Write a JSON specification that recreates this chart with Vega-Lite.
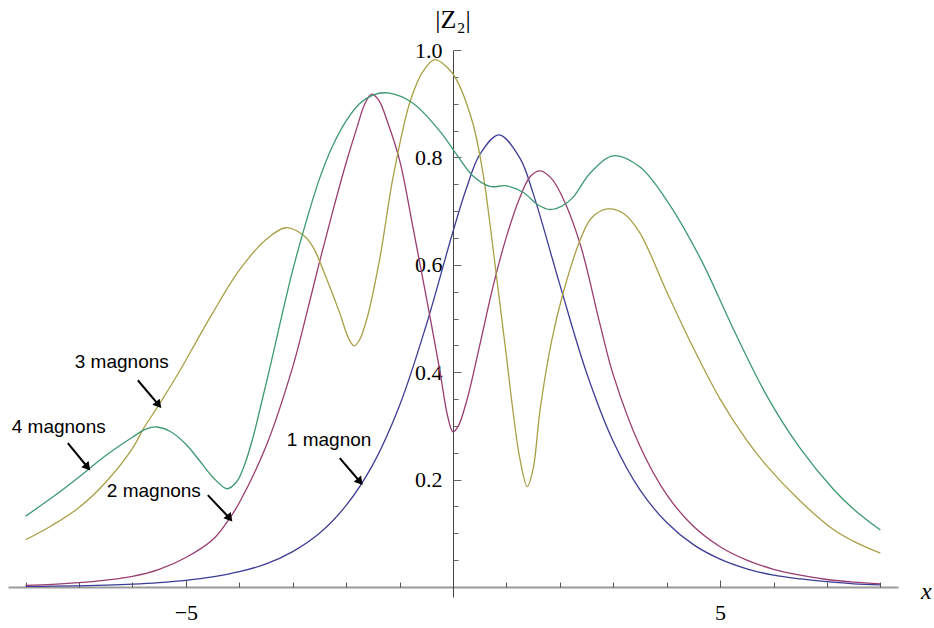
{
  "$schema": "https://vega.github.io/schema/vega-lite/v6.json",
  "width": 890,
  "height": 547,
  "autosize": {"type": "none"},
  "padding": {"left": 8, "top": 50, "right": 36, "bottom": 31},
  "background": "white",
  "config": {"view": {"stroke": null}},
  "datasets": {
    "curves": [
      {"s": "1 magnon", "x": -8, "y": 0.001}, {"s": "1 magnon", "x": -7.5, "y": 0.0015}, {"s": "1 magnon", "x": -7, "y": 0.0023}, {"s": "1 magnon", "x": -6.5, "y": 0.0035},
      {"s": "1 magnon", "x": -6, "y": 0.0053}, {"s": "1 magnon", "x": -5.5, "y": 0.0081}, {"s": "1 magnon", "x": -5, "y": 0.0123}, {"s": "1 magnon", "x": -4.5, "y": 0.0187},
      {"s": "1 magnon", "x": -4, "y": 0.0285}, {"s": "1 magnon", "x": -3.5, "y": 0.043}, {"s": "1 magnon", "x": -3, "y": 0.066}, {"s": "1 magnon", "x": -2.5, "y": 0.1},
      {"s": "1 magnon", "x": -2, "y": 0.152}, {"s": "1 magnon", "x": -1.5, "y": 0.228}, {"s": "1 magnon", "x": -1, "y": 0.338}, {"s": "1 magnon", "x": -0.5, "y": 0.488},
      {"s": "1 magnon", "x": 0, "y": 0.662}, {"s": "1 magnon", "x": 0.25, "y": 0.742}, {"s": "1 magnon", "x": 0.5, "y": 0.805}, {"s": "1 magnon", "x": 0.86, "y": 0.842},
      {"s": "1 magnon", "x": 1.25, "y": 0.799}, {"s": "1 magnon", "x": 1.5, "y": 0.733}, {"s": "1 magnon", "x": 2, "y": 0.563}, {"s": "1 magnon", "x": 2.5, "y": 0.399},
      {"s": "1 magnon", "x": 3, "y": 0.271}, {"s": "1 magnon", "x": 3.5, "y": 0.181}, {"s": "1 magnon", "x": 4, "y": 0.12}, {"s": "1 magnon", "x": 4.5, "y": 0.079},
      {"s": "1 magnon", "x": 5, "y": 0.052}, {"s": "1 magnon", "x": 5.5, "y": 0.034}, {"s": "1 magnon", "x": 6, "y": 0.022}, {"s": "1 magnon", "x": 6.5, "y": 0.015},
      {"s": "1 magnon", "x": 7, "y": 0.01}, {"s": "1 magnon", "x": 7.5, "y": 0.006}, {"s": "1 magnon", "x": 8, "y": 0.004},

      {"s": "2 magnons", "x": -8, "y": 0.003}, {"s": "2 magnons", "x": -7.5, "y": 0.005}, {"s": "2 magnons", "x": -7, "y": 0.008}, {"s": "2 magnons", "x": -6.5, "y": 0.013},
      {"s": "2 magnons", "x": -6, "y": 0.02}, {"s": "2 magnons", "x": -5.5, "y": 0.033}, {"s": "2 magnons", "x": -5, "y": 0.055}, {"s": "2 magnons", "x": -4.5, "y": 0.088},
      {"s": "2 magnons", "x": -4.18, "y": 0.128}, {"s": "2 magnons", "x": -4, "y": 0.157}, {"s": "2 magnons", "x": -3.5, "y": 0.262}, {"s": "2 magnons", "x": -3, "y": 0.41},
      {"s": "2 magnons", "x": -2.75, "y": 0.505}, {"s": "2 magnons", "x": -2.5, "y": 0.605}, {"s": "2 magnons", "x": -2.25, "y": 0.7}, {"s": "2 magnons", "x": -2, "y": 0.79},
      {"s": "2 magnons", "x": -1.8, "y": 0.855}, {"s": "2 magnons", "x": -1.65, "y": 0.9}, {"s": "2 magnons", "x": -1.52, "y": 0.918}, {"s": "2 magnons", "x": -1.38, "y": 0.905},
      {"s": "2 magnons", "x": -1.24, "y": 0.87}, {"s": "2 magnons", "x": -1, "y": 0.795}, {"s": "2 magnons", "x": -0.75, "y": 0.67}, {"s": "2 magnons", "x": -0.5, "y": 0.54},
      {"s": "2 magnons", "x": -0.25, "y": 0.405}, {"s": "2 magnons", "x": -0.1, "y": 0.318}, {"s": "2 magnons", "x": 0, "y": 0.289}, {"s": "2 magnons", "x": 0.1, "y": 0.3},
      {"s": "2 magnons", "x": 0.26, "y": 0.348}, {"s": "2 magnons", "x": 0.5, "y": 0.45}, {"s": "2 magnons", "x": 0.75, "y": 0.56}, {"s": "2 magnons", "x": 1, "y": 0.652},
      {"s": "2 magnons", "x": 1.25, "y": 0.725}, {"s": "2 magnons", "x": 1.45, "y": 0.765}, {"s": "2 magnons", "x": 1.63, "y": 0.775}, {"s": "2 magnons", "x": 1.85, "y": 0.76},
      {"s": "2 magnons", "x": 2.1, "y": 0.715}, {"s": "2 magnons", "x": 2.4, "y": 0.632}, {"s": "2 magnons", "x": 2.75, "y": 0.49}, {"s": "2 magnons", "x": 3, "y": 0.395},
      {"s": "2 magnons", "x": 3.5, "y": 0.262}, {"s": "2 magnons", "x": 4, "y": 0.172}, {"s": "2 magnons", "x": 4.5, "y": 0.113}, {"s": "2 magnons", "x": 5, "y": 0.075},
      {"s": "2 magnons", "x": 5.5, "y": 0.05}, {"s": "2 magnons", "x": 6, "y": 0.033}, {"s": "2 magnons", "x": 6.5, "y": 0.022}, {"s": "2 magnons", "x": 7, "y": 0.014},
      {"s": "2 magnons", "x": 7.5, "y": 0.009}, {"s": "2 magnons", "x": 8, "y": 0.006},

      {"s": "3 magnons", "x": -8, "y": 0.088}, {"s": "3 magnons", "x": -7.5, "y": 0.115}, {"s": "3 magnons", "x": -7, "y": 0.148}, {"s": "3 magnons", "x": -6.5, "y": 0.195},
      {"s": "3 magnons", "x": -6, "y": 0.258}, {"s": "3 magnons", "x": -5.8, "y": 0.294}, {"s": "3 magnons", "x": -5.5, "y": 0.34}, {"s": "3 magnons", "x": -5.1, "y": 0.405},
      {"s": "3 magnons", "x": -4.8, "y": 0.458}, {"s": "3 magnons", "x": -4.5, "y": 0.51}, {"s": "3 magnons", "x": -4, "y": 0.59}, {"s": "3 magnons", "x": -3.5, "y": 0.647},
      {"s": "3 magnons", "x": -3.13, "y": 0.669}, {"s": "3 magnons", "x": -2.8, "y": 0.655}, {"s": "3 magnons", "x": -2.62, "y": 0.633}, {"s": "3 magnons", "x": -2.43, "y": 0.59},
      {"s": "3 magnons", "x": -2.12, "y": 0.51}, {"s": "3 magnons", "x": -1.95, "y": 0.462}, {"s": "3 magnons", "x": -1.85, "y": 0.449}, {"s": "3 magnons", "x": -1.75, "y": 0.46},
      {"s": "3 magnons", "x": -1.61, "y": 0.5}, {"s": "3 magnons", "x": -1.37, "y": 0.612}, {"s": "3 magnons", "x": -1.12, "y": 0.764}, {"s": "3 magnons", "x": -0.8, "y": 0.905},
      {"s": "3 magnons", "x": -0.55, "y": 0.962}, {"s": "3 magnons", "x": -0.34, "y": 0.982}, {"s": "3 magnons", "x": -0.1, "y": 0.967}, {"s": "3 magnons", "x": 0.07, "y": 0.944},
      {"s": "3 magnons", "x": 0.37, "y": 0.864}, {"s": "3 magnons", "x": 0.56, "y": 0.771}, {"s": "3 magnons", "x": 0.7, "y": 0.67}, {"s": "3 magnons", "x": 0.85, "y": 0.55},
      {"s": "3 magnons", "x": 1, "y": 0.43}, {"s": "3 magnons", "x": 1.12, "y": 0.33}, {"s": "3 magnons", "x": 1.25, "y": 0.24}, {"s": "3 magnons", "x": 1.39, "y": 0.187},
      {"s": "3 magnons", "x": 1.5, "y": 0.22}, {"s": "3 magnons", "x": 1.63, "y": 0.33}, {"s": "3 magnons", "x": 1.85, "y": 0.46}, {"s": "3 magnons", "x": 2.06, "y": 0.547},
      {"s": "3 magnons", "x": 2.38, "y": 0.646}, {"s": "3 magnons", "x": 2.6, "y": 0.688}, {"s": "3 magnons", "x": 2.9, "y": 0.704}, {"s": "3 magnons", "x": 3.2, "y": 0.695},
      {"s": "3 magnons", "x": 3.5, "y": 0.659}, {"s": "3 magnons", "x": 4, "y": 0.55}, {"s": "3 magnons", "x": 4.5, "y": 0.445}, {"s": "3 magnons", "x": 5, "y": 0.35},
      {"s": "3 magnons", "x": 5.5, "y": 0.273}, {"s": "3 magnons", "x": 5.87, "y": 0.226}, {"s": "3 magnons", "x": 6.5, "y": 0.16}, {"s": "3 magnons", "x": 7.12, "y": 0.107},
      {"s": "3 magnons", "x": 7.5, "y": 0.085}, {"s": "3 magnons", "x": 8, "y": 0.063},

      {"s": "4 magnons", "x": -8, "y": 0.132}, {"s": "4 magnons", "x": -7.5, "y": 0.167}, {"s": "4 magnons", "x": -7, "y": 0.205}, {"s": "4 magnons", "x": -6.5, "y": 0.245},
      {"s": "4 magnons", "x": -6, "y": 0.279}, {"s": "4 magnons", "x": -5.75, "y": 0.294}, {"s": "4 magnons", "x": -5.55, "y": 0.298}, {"s": "4 magnons", "x": -5.3, "y": 0.29},
      {"s": "4 magnons", "x": -5, "y": 0.266}, {"s": "4 magnons", "x": -4.75, "y": 0.236}, {"s": "4 magnons", "x": -4.5, "y": 0.205}, {"s": "4 magnons", "x": -4.23, "y": 0.183},
      {"s": "4 magnons", "x": -4.05, "y": 0.196}, {"s": "4 magnons", "x": -3.9, "y": 0.228}, {"s": "4 magnons", "x": -3.74, "y": 0.28}, {"s": "4 magnons", "x": -3.58, "y": 0.345},
      {"s": "4 magnons", "x": -3.4, "y": 0.42}, {"s": "4 magnons", "x": -3.24, "y": 0.49}, {"s": "4 magnons", "x": -3, "y": 0.59}, {"s": "4 magnons", "x": -2.75, "y": 0.68},
      {"s": "4 magnons", "x": -2.5, "y": 0.76}, {"s": "4 magnons", "x": -2.25, "y": 0.822}, {"s": "4 magnons", "x": -2, "y": 0.868}, {"s": "4 magnons", "x": -1.75, "y": 0.9},
      {"s": "4 magnons", "x": -1.5, "y": 0.916}, {"s": "4 magnons", "x": -1.22, "y": 0.92}, {"s": "4 magnons", "x": -0.75, "y": 0.901},
      {"s": "4 magnons", "x": -0.24, "y": 0.848}, {"s": "4 magnons", "x": 0.07, "y": 0.805}, {"s": "4 magnons", "x": 0.37, "y": 0.766}, {"s": "4 magnons", "x": 0.69, "y": 0.746},
      {"s": "4 magnons", "x": 1, "y": 0.747}, {"s": "4 magnons", "x": 1.31, "y": 0.735}, {"s": "4 magnons", "x": 1.6, "y": 0.711}, {"s": "4 magnons", "x": 1.82, "y": 0.703},
      {"s": "4 magnons", "x": 2.05, "y": 0.71}, {"s": "4 magnons", "x": 2.25, "y": 0.726}, {"s": "4 magnons", "x": 2.57, "y": 0.771}, {"s": "4 magnons", "x": 3, "y": 0.803},
      {"s": "4 magnons", "x": 3.5, "y": 0.782}, {"s": "4 magnons", "x": 4, "y": 0.72}, {"s": "4 magnons", "x": 4.63, "y": 0.612}, {"s": "4 magnons", "x": 5.25, "y": 0.48},
      {"s": "4 magnons", "x": 5.88, "y": 0.355}, {"s": "4 magnons", "x": 6.5, "y": 0.258}, {"s": "4 magnons", "x": 7.12, "y": 0.182}, {"s": "4 magnons", "x": 7.5, "y": 0.145},
      {"s": "4 magnons", "x": 8, "y": 0.106}
    ],
    "arrows": [
      {"label": "3 magnons", "x0": -5.9, "y0": 0.385, "x1": -5.51, "y1": 0.339},
      {"label": "4 magnons", "x0": -7.21, "y0": 0.268, "x1": -6.84, "y1": 0.223},
      {"label": "2 magnons", "x0": -4.59, "y0": 0.171, "x1": -4.18, "y1": 0.128},
      {"label": "1 magnon", "x0": -2.12, "y0": 0.24, "x1": -1.74, "y1": 0.196}
    ],
    "labels": [
      {"label": "3 magnons", "x": -7.08, "y": 0.408},
      {"label": "4 magnons", "x": -8.26, "y": 0.287},
      {"label": "2 magnons", "x": -6.48, "y": 0.168},
      {"label": "1 magnon", "x": -3.11, "y": 0.263}
    ],
    "xtitle": [{"t": "x", "x": 8.76, "y": -0.009}],
    "ytitle": [{"t": "|Z₂|", "x": 0, "y": 1.056}]
  },
  "layer": [
    {
      "data": {"name": "curves"},
      "mark": {"type": "line", "interpolate": "catmull-rom", "strokeWidth": 1.3},
      "encoding": {
        "x": {
          "field": "x", "type": "quantitative",
          "scale": {"domain": [-8.33, 8.33], "nice": false, "zero": false},
          "axis": {"orient": "bottom", "offset": -10, "values": [-5, 5], "ticks": false, "labelPadding": 15,
                   "labelFont": "Liberation Serif", "labelFontSize": 22, "labelColor": "black",
                   "domain": true, "domainColor": "#9a9a9a", "domainWidth": 2, "grid": false, "title": null}
        },
        "y": {
          "field": "y", "type": "quantitative",
          "scale": {"domain": [-0.0186, 1.0], "nice": false, "zero": false},
          "axis": {"orient": "left", "offset": -445, "values": [0.2, 0.4, 0.6, 0.8, 1.0], "format": ".1f", "ticks": false,
                   "labelPadding": 11, "labelFont": "Liberation Serif", "labelFontSize": 22, "labelColor": "black",
                   "domain": true, "domainColor": "#444444", "domainWidth": 1, "grid": false, "title": null}
        },
        "color": {
          "field": "s", "type": "nominal",
          "scale": {"domain": ["1 magnon", "2 magnons", "3 magnons", "4 magnons"], "range": ["#3d3d95", "#993d71", "#a99f45", "#3d9970"]},
          "legend": null
        }
      }
    },
    {
      "data": {"name": "arrows"},
      "mark": {"type": "rule", "color": "black", "strokeWidth": 2},
      "encoding": {
        "x": {"field": "x0", "type": "quantitative",
              "axis": {"orient": "bottom", "offset": -10, "values": [-5, 5], "labels": false, "domain": false, "ticks": true,
                       "tickSize": -7, "tickColor": "#555555", "tickWidth": 1, "grid": false, "title": null}},
        "y": {"field": "y0", "type": "quantitative",
              "axis": {"orient": "left", "offset": -445, "values": [0.2, 0.4, 0.6, 0.8, 1.0], "labels": false, "domain": false, "ticks": true,
                       "tickSize": -8, "tickColor": "#666666", "tickWidth": 1, "grid": false, "title": null}},
        "x2": {"field": "x1"},
        "y2": {"field": "y1"}
      }
    },
    {
      "data": {"name": "arrows"},
      "mark": {"type": "point", "shape": "triangle-up", "filled": true, "color": "black", "size": 90, "angle": 140, "opacity": 1},
      "encoding": {
        "x": {"field": "x1", "type": "quantitative",
              "axis": {"orient": "bottom", "offset": -10, "values": [-8, -7, -6, -4, -3, -2, -1, 1, 2, 3, 4, 6, 7, 8], "labels": false, "domain": false, "ticks": true,
                       "tickSize": -5, "tickColor": "#555555", "tickWidth": 1, "grid": false, "title": null}},
        "y": {"field": "y1", "type": "quantitative",
              "axis": {"orient": "left", "offset": -445, "values": [0.05, 0.1, 0.15, 0.25, 0.3, 0.35, 0.45, 0.5, 0.55, 0.65, 0.7, 0.75, 0.85, 0.9, 0.95], "labels": false, "domain": false, "ticks": true,
                       "tickSize": -5, "tickColor": "#666666", "tickWidth": 1, "grid": false, "title": null}}
      }
    },
    {
      "data": {"name": "labels"},
      "mark": {"type": "text", "align": "left", "baseline": "alphabetic", "font": "Liberation Sans", "fontSize": 19, "color": "black"},
      "encoding": {
        "x": {"field": "x", "type": "quantitative", "axis": null},
        "y": {"field": "y", "type": "quantitative", "axis": null},
        "text": {"field": "label"}
      }
    },
    {
      "data": {"name": "xtitle"},
      "mark": {"type": "text", "align": "left", "baseline": "middle", "font": "Liberation Serif", "fontSize": 24, "fontStyle": "italic", "color": "black"},
      "encoding": {
        "x": {"field": "x", "type": "quantitative", "axis": null},
        "y": {"field": "y", "type": "quantitative", "axis": null},
        "text": {"field": "t"}
      }
    },
    {
      "data": {"name": "ytitle"},
      "mark": {"type": "text", "align": "center", "baseline": "middle", "font": "Liberation Serif", "fontSize": 26, "color": "black"},
      "encoding": {
        "x": {"field": "x", "type": "quantitative", "axis": null},
        "y": {"field": "y", "type": "quantitative", "axis": null},
        "text": {"field": "t"}
      }
    }
  ],
  "resolve": {"axis": {"x": "independent", "y": "independent"}}
}
